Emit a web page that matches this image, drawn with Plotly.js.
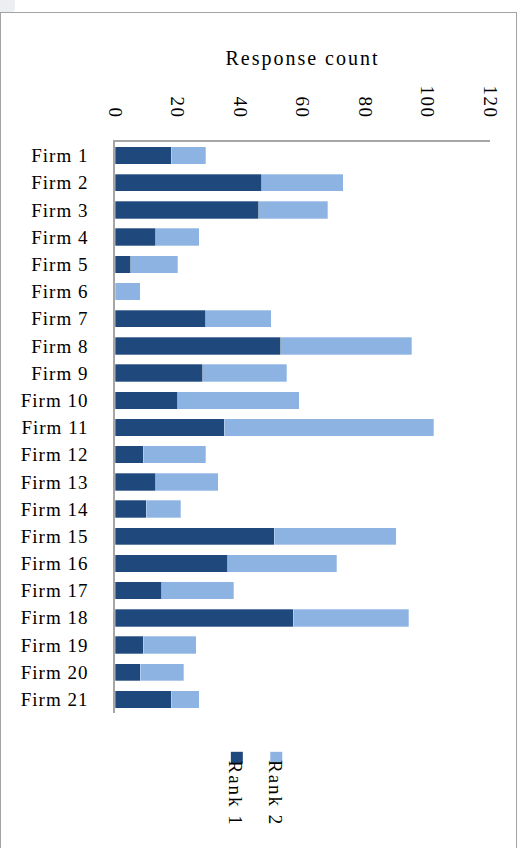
<!DOCTYPE html>
<html>
<head>
<meta charset="utf-8">
<script src="https://cdn.plot.ly/plotly-3.0.1.min.js"></script>
<style>
  html, body { margin: 0; padding: 0; background: #ffffff; }
  #wrap { position: relative; width: 525px; height: 848px; overflow: hidden; }
  #chart { position: absolute; left: 0; top: 0; width: 525px; height: 848px; }
  #frame { position: absolute; left: 0px; top: 12px; width: 515px; height: 900px;
           border: 1.5px solid #a3a3a3; pointer-events: none; }
  #corner { position: absolute; left: 0; top: 0; width: 15px; height: 12px;
            background: #eceef2; border-bottom-right-radius: 4px; }
  #chart .xtick text { letter-spacing: 1.5px; }
  #chart .ytick text { letter-spacing: 1px; }
  #chart .g-xtitle text { letter-spacing: 2px; }
  #chart .annotation-text { letter-spacing: 2px; }
</style>
</head>
<body>
<div id="wrap">
  <div id="chart"></div>
  <div id="frame"></div>
  <div id="corner"></div>
</div>
<script>
// ---- data ----
const firms = ["Firm 1","Firm 2","Firm 3","Firm 4","Firm 5","Firm 6","Firm 7",
  "Firm 8","Firm 9","Firm 10","Firm 11","Firm 12","Firm 13","Firm 14",
  "Firm 15","Firm 16","Firm 17","Firm 18","Firm 19","Firm 20","Firm 21"];
const rank1 = [18, 47, 46, 13, 5, 0, 29, 53, 28, 20, 35, 9, 13, 10, 51, 36, 15, 57, 9, 8, 18];
const rank2 = [11, 26, 22, 14, 15, 8, 21, 42, 27, 39, 67, 20, 20, 11, 39, 35, 23, 37, 17, 14, 9];
const seriesNames = ["Rank 1", "Rank 2"];
const xTicks = [0, 20, 40, 60, 80, 100, 120];
const axisTitle = "Response count";

// ---- style ----
const colors = ["#1f497d", "#8db3e2"];
const FONT = "'Liberation Serif', 'Times New Roman', serif";
const W = 525, H = 848;
const M = { l: 114.5, r: 35, t: 141.7, b: 135.3 };
const plotW = W - M.l - M.r, plotH = H - M.t - M.b;
const px2x = px => (px - M.l) / plotW;
const px2y = py => (H - M.b - py) / plotH;

const traces = [rank1, rank2].map((vals, i) => ({
  type: "bar",
  orientation: "h",
  name: seriesNames[i],
  y: firms,
  x: vals,
  marker: { color: colors[i], line: { color: "rgba(255,255,255,0.5)", width: 0.6 } },
  hoverinfo: "x+y+name"
}));

// manual rotated legend
const legendX = [236.5, 276];
const shapes = [];
const annotations = [];
seriesNames.forEach((n, i) => {
  const cx = legendX[i];
  shapes.push({
    type: "rect", xref: "paper", yref: "paper",
    x0: px2x(cx - 6), x1: px2x(cx + 6),
    y0: px2y(763.5), y1: px2y(751.5),
    fillcolor: colors[i], line: { width: 0 }
  });
  annotations.push({
    xref: "paper", yref: "paper",
    x: px2x(cx - 1), y: px2y(764),
    xanchor: "center", yanchor: "top",
    text: n, textangle: 90, showarrow: false,
    font: { family: FONT, size: 19, color: "#000" }
  });
});

const layout = {
  width: W, height: H,
  margin: M,
  paper_bgcolor: "rgba(0,0,0,0)",
  plot_bgcolor: "#ffffff",
  barmode: "stack",
  bargap: 0.36,
  showlegend: false,
  font: { family: FONT, color: "#000" },
  xaxis: {
    side: "top",
    range: [0, 120],
    tickvals: xTicks,
    ticktext: xTicks.map(String),
    tickangle: 90,
    tickfont: { family: FONT, size: 19, color: "#000" },
    ticks: "",
    ticklabelstandoff: 15,
    showgrid: false,
    zeroline: false,
    showline: true,
    linecolor: "#a6a6a6",
    linewidth: 1.5,
    automargin: false,
    title: { text: axisTitle, font: { family: FONT, size: 20, color: "#000" }, standoff: 19 }
  },
  yaxis: {
    categoryorder: "array",
    categoryarray: firms,
    autorange: "reversed",
    tickfont: { family: FONT, size: 19, color: "#000" },
    ticks: "",
    ticklabelstandoff: 21,
    showgrid: false,
    zeroline: false,
    showline: true,
    linecolor: "#a6a6a6",
    linewidth: 1.5,
    automargin: false
  },
  shapes: shapes,
  annotations: annotations
};

Plotly.newPlot("chart", traces, layout, { displayModeBar: false, staticPlot: false });
</script>
</body>
</html>
